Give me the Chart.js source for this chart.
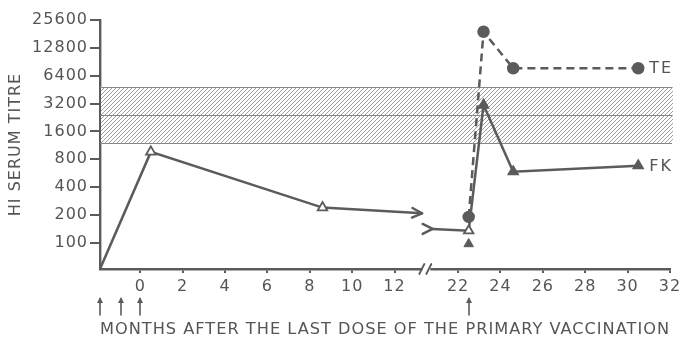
<!DOCTYPE html>
<html><head><meta charset="utf-8">
<script src="https://cdn.jsdelivr.net/npm/chart.js@4"></script>
<style>html,body{margin:0;padding:0;background:#fff}#wrap{width:682px;height:338px}</style>
</head><body><div id="wrap"><canvas id="c" width="682" height="338"></canvas></div>
<script>
// ---- data ----
const xTickMonths = [0, 2, 4, 6, 8, 10, 12, 22, 24, 26, 28, 30, 32];
const yTickValues = [100, 200, 400, 800, 1600, 3200, 6400, 12800, 25600];
const doseMonths = [-1.9, -0.9, 0, 22.5];
const bandLimits = [1200, 2400, 4800];
// before booster (open triangles)
const preMonths = [-1.9, 0.5, 8.6, 13.3];
const preTitres = [52, 960, 240, 208];
// FK (solid line)
const fkMonths = [20.8, 22.5, 23.2, 24.6, 30.5];
const fkTitres = [141, 135, 3085, 586, 681];
const fkBaseMonths = [22.5];
const fkBaseTitres = [97];
// TE (dashed line)
const teMonths = [22.5, 23.2, 24.6, 30.5];
const teTitres = [190, 19100, 7700, 7700];
const seriesLabels = ['TE', 'FK'];
const xTitle = 'MONTHS AFTER THE LAST DOSE OF THE PRIMARY VACCINATION';
const yTitle = 'HI SERUM TITRE';

// ---- axis break mapping (months 13.5..20.5 omitted) ----
const GAP = 7, BREAK_U = 13.5;
const toU = m => (m > 17 ? m - GAP : m);
const fromU = u => (u > BREAK_U ? u + GAP : u);
const pts = (ms, vs) => ms.map((m, i) => ({ x: toU(m), y: vs[i] }));

const INK = '#5b5b5b';
const TXT = '#555';
const FONT = "'DejaVu Sans', sans-serif";

const hatch = (() => {
  const c = document.createElement('canvas'); c.width = 4; c.height = 4;
  const g = c.getContext('2d');
  g.fillStyle = '#fff'; g.fillRect(0, 0, 4, 4);
  g.strokeStyle = '#9c9c9c'; g.lineWidth = 1;
  g.beginPath(); g.moveTo(-1, 5); g.lineTo(5, -1); g.stroke();
  g.beginPath(); g.moveTo(-1, 1); g.lineTo(1, -1); g.stroke();
  g.beginPath(); g.moveTo(3, 5); g.lineTo(5, 3); g.stroke();
  return c;
})();

function line(ctx, x1, y1, x2, y2) { ctx.beginPath(); ctx.moveTo(x1, y1); ctx.lineTo(x2, y2); ctx.stroke(); }

const decor = {
  id: 'decor',
  beforeUpdate(chart) { chart.ctx.letterSpacing = '1px'; },
  beforeDraw(chart) { chart.ctx.letterSpacing = '1px'; },
  beforeDatasetsDraw(chart) {
    const { ctx, chartArea: a, scales: { x, y } } = chart;
    const top = y.getPixelForValue(bandLimits[2]);
    const bot = y.getPixelForValue(bandLimits[0]);
    const mid = y.getPixelForValue(bandLimits[1]);
    ctx.save();
    ctx.fillStyle = ctx.createPattern(hatch, 'repeat');
    ctx.fillRect(a.left + 1, top, a.right + 2 - a.left, bot - top);
    ctx.strokeStyle = '#888'; ctx.lineWidth = 1;
    [top, mid, bot].forEach(p => line(ctx, a.left, Math.round(p) + 0.5, a.right + 2, Math.round(p) + 0.5));
    ctx.restore();
  },
  afterDatasetsDraw(chart) {
    const { ctx, chartArea: a, scales: { x, y } } = chart;
    ctx.save();
    ctx.strokeStyle = INK; ctx.lineWidth = 2.4; ctx.lineCap = 'round';
    // arrow head at end of pre-booster line
    const n = preMonths.length;
    const ex = x.getPixelForValue(toU(preMonths[n - 1])), ey = y.getPixelForValue(preTitres[n - 1]);
    const px = x.getPixelForValue(toU(preMonths[n - 2])), py = y.getPixelForValue(preTitres[n - 2]);
    const ang = Math.atan2(ey - py, ex - px);
    [0.45, -0.45].forEach(d => line(ctx, ex, ey, ex - 11 * Math.cos(ang + d), ey - 11 * Math.sin(ang + d)));
    // tail at start of FK line
    const sx = x.getPixelForValue(toU(fkMonths[0])), sy = y.getPixelForValue(fkTitres[0]);
    line(ctx, sx, sy, sx - 10, sy - 5);
    line(ctx, sx, sy, sx - 10, sy + 5);
    // series labels
    ctx.fillStyle = TXT; ctx.font = "16px " + FONT; ctx.textBaseline = 'middle'; ctx.textAlign = 'left';
    ctx.letterSpacing = '2px';
    const tl = teMonths.length - 1, fl = fkMonths.length - 1;
    ctx.fillText(seriesLabels[0], x.getPixelForValue(toU(teMonths[tl])) + 11, y.getPixelForValue(teTitres[tl]) + 1);
    ctx.fillText(seriesLabels[1], x.getPixelForValue(toU(fkMonths[fl])) + 11, y.getPixelForValue(fkTitres[fl]) + 1);
    // dose arrows
    ctx.lineWidth = 1.6;
    doseMonths.forEach(m => {
      const ax = Math.round(x.getPixelForValue(toU(m)));
      line(ctx, ax, a.bottom + 46, ax, a.bottom + 30);
      ctx.beginPath(); ctx.moveTo(ax, a.bottom + 28); ctx.lineTo(ax - 3, a.bottom + 34); ctx.lineTo(ax + 3, a.bottom + 34); ctx.closePath();
      ctx.fillStyle = INK; ctx.fill();
    });
    // axis break
    const bx = x.getPixelForValue(BREAK_U), by = a.bottom;
    ctx.fillStyle = '#fff'; ctx.fillRect(bx - 4, by - 3, 8, 6);
    ctx.lineWidth = 1.8;
    line(ctx, bx - 7, by + 5, bx - 2, by - 5);
    line(ctx, bx, by + 5, bx + 5, by - 5);
    ctx.restore();
  }
};

new Chart(document.getElementById('c'), {
  type: 'line',
  data: {
    datasets: [
      {
        data: pts(preMonths, preTitres), borderColor: INK, borderWidth: 2.5,
        pointStyle: 'triangle', pointRadius: [0, 5.5, 5.5, 0], pointBackgroundColor: '#fff',
        pointBorderColor: INK, pointBorderWidth: 1.8, order: 2
      },
      {
        data: pts(fkMonths, fkTitres), borderColor: INK, borderWidth: 2.5,
        pointStyle: 'triangle', pointRadius: [0, 5.5, 5.5, 5.5, 5.5],
        pointBackgroundColor: ['#fff', '#fff', INK, INK, INK], pointBorderColor: INK, pointBorderWidth: 1.8, order: 1
      },
      {
        data: pts(fkBaseMonths, fkBaseTitres), showLine: false,
        pointStyle: 'triangle', pointRadius: 5.5, pointBackgroundColor: INK, pointBorderColor: INK, order: 1
      },
      {
        data: pts(teMonths, teTitres), borderColor: INK, borderWidth: 2.5, borderDash: [8, 5],
        pointStyle: 'circle', pointRadius: 5, pointBackgroundColor: INK, pointBorderColor: INK, order: 0
      }
    ]
  },
  options: {
    responsive: false, animation: false, devicePixelRatio: 1,
    layout: { padding: { top: 20, right: 12, left: 0, bottom: 0 } },
    plugins: { legend: { display: false }, tooltip: { enabled: false } },
    elements: { line: { tension: 0 } },
    scales: {
      x: {
        type: 'linear', min: -1.9, max: 25,
        afterBuildTicks: s => { s.ticks = xTickMonths.map(m => ({ value: toU(m) })); },
        afterFit: s => { s.height = 69; s.paddingRight = 0; s.paddingLeft = 0; },
        ticks: { autoSkip: false, maxRotation: 0, padding: 4, color: TXT, font: { family: FONT, size: 16 },
          callback: v => String(Math.round(fromU(v))) },
        grid: { drawOnChartArea: false, drawTicks: true, tickLength: 4, color: INK, lineWidth: 2 },
        border: { color: INK, width: 2.4 },
        title: { display: true, text: xTitle, color: TXT, font: { family: FONT, size: 16.4, lineHeight: 1 }, padding: { top: 0, bottom: 0 } }
      },
      y: {
        type: 'logarithmic', min: 52, max: 25600,
        afterBuildTicks: s => { s.ticks = yTickValues.map(v => ({ value: v })); },
        afterFit: s => { s.width = 100; },
        ticks: { autoSkip: false, padding: 2, color: TXT, font: { family: FONT, size: 16 }, callback: v => String(v) },
        grid: { drawOnChartArea: false, drawTicks: true, tickLength: 10, color: INK, lineWidth: 2 },
        border: { color: INK, width: 2.4 },
        title: { display: true, text: yTitle, color: TXT, font: { family: FONT, size: 16, lineHeight: 1 }, padding: { top: 8, bottom: 0 } }
      }
    }
  },
  plugins: [decor]
});
</script></body></html>
